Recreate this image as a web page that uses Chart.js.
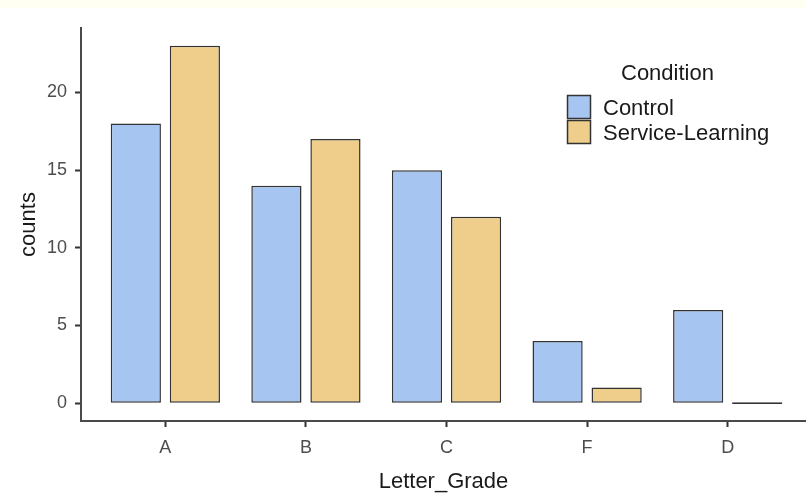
<!DOCTYPE html>
<html>
<head>
<meta charset="utf-8">
<script src="https://cdn.jsdelivr.net/npm/chart.js@4/dist/chart.umd.min.js"></script>
<style>
  html, body { margin: 0; padding: 0; background: #fff; }
  #wrap { width: 806px; height: 495px; position: relative; }
</style>
</head>
<body>
<div id="wrap"><canvas id="myChart"></canvas></div>
<script>
// data
var grades = ['A', 'B', 'C', 'F', 'D'];
var gradePos = [1, 2, 3, 4, 5];
var control = [18, 14, 15, 4, 6];
var serviceLearning = [23, 17, 12, 1, 0];
var yTicks = [0, 5, 10, 15, 20];
var seriesNames = ['Control', 'Service-Learning'];
var legendTitle = 'Condition';

var font = '"Liberation Sans", Arial, sans-serif';
var blue = 'rgb(166,197,241)';
var tan = 'rgb(239,205,139)';

function points(vals) {
	return gradePos.map((x, i) => ({ x: x, y: vals[i] }));
}

// fondo bianco + striscia gialla in alto
const bgPlugin = {
	id: 'bg',
	beforeDraw(chart) {
		const ctx = chart.ctx;
		ctx.save();
		ctx.fillStyle = '#ffffff';
		ctx.fillRect(0, 0, chart.width, chart.height);
		ctx.fillStyle = '#fffff2';
		ctx.fillRect(0, 0, chart.width, 8);
		ctx.restore();
	}
};

// legenda in stile ggplot, dentro l'area del grafico
const legendPlugin = {
	id: 'ggLegend',
	afterDraw(chart) {
		const ctx = chart.ctx;
		ctx.save();
		ctx.font = '22px ' + font;
		ctx.fillStyle = '#1a1a1a';
		ctx.textBaseline = 'middle';
		ctx.textAlign = 'left';
		ctx.fillText(legendTitle, 621, 74);
		chart.data.datasets.forEach((ds, i) => {
			let y = 95 + i * 25;
			ctx.fillStyle = ds.backgroundColor;
			ctx.fillRect(567, y, 23, 23);
			ctx.strokeStyle = '#333';
			ctx.lineWidth = 1.5;
			ctx.strokeRect(567.5, y + 0.5, 23, 23);
			ctx.fillStyle = '#1a1a1a';
			ctx.fillText(ds.label, 603, y + 14);
		});
		ctx.restore();
	}
};

const ctx = document.getElementById('myChart').getContext('2d');
var myChart = new Chart(ctx, {
	type: 'bar',
	data: {
		datasets: [{
			label: seriesNames[0],
			data: points(control),
			backgroundColor: blue
		}, {
			label: seriesNames[1],
			data: points(serviceLearning),
			backgroundColor: tan
		}]
	},
	options: {
		responsive: true,
		maintainAspectRatio: false,
		animation: false,
		devicePixelRatio: 1,
		layout: { padding: { top: 28, left: 0, right: 0, bottom: 0 } },
		datasets: {
			bar: {
				borderColor: '#333',
				borderWidth: 1.5,
				borderSkipped: false,
				minBarLength: 1.6,
				categoryPercentage: 0.84,
				barPercentage: 0.85
			}
		},
		scales: {
			x: {
				type: 'linear',
				offset: false,
				min: 0.4,
				max: 5.557,
				afterBuildTicks: s => { s.ticks = gradePos.map(v => ({ value: v })); },
				afterFit: s => { s.height = 74; },
				grid: { offset: false, drawOnChartArea: false, tickLength: 6, tickColor: '#333', tickWidth: 2 },
				border: { display: true, color: '#4a4a4a', width: 2 },
				ticks: {
					autoSkip: false,
					maxRotation: 0,
					padding: 10,
					color: '#4d4d4d',
					font: { family: font, size: 18 },
					callback: v => grades[gradePos.indexOf(v)]
				},
				title: {
					display: true,
					text: 'Letter_Grade',
					color: '#1a1a1a',
					font: { family: font, size: 22 },
					padding: { top: 0, bottom: 0 }
				}
			},
			y: {
				min: -1.15,
				max: 24.15,
				afterBuildTicks: s => { s.ticks = yTicks.map(v => ({ value: v })); },
				afterFit: s => { s.width = 81; },
				grid: { drawOnChartArea: false, tickLength: 6, tickColor: '#333', tickWidth: 2 },
				border: { display: true, color: '#4a4a4a', width: 2 },
				ticks: {
					padding: 8,
					color: '#4d4d4d',
					font: { family: font, size: 18 }
				},
				title: {
					display: true,
					text: 'counts',
					color: '#1a1a1a',
					font: { family: font, size: 22 },
					padding: { top: 16, bottom: 0 }
				}
			}
		},
		plugins: {
			legend: { display: false },
			tooltip: { enabled: false }
		}
	},
	plugins: [bgPlugin, legendPlugin]
});
</script>
</body>
</html>
